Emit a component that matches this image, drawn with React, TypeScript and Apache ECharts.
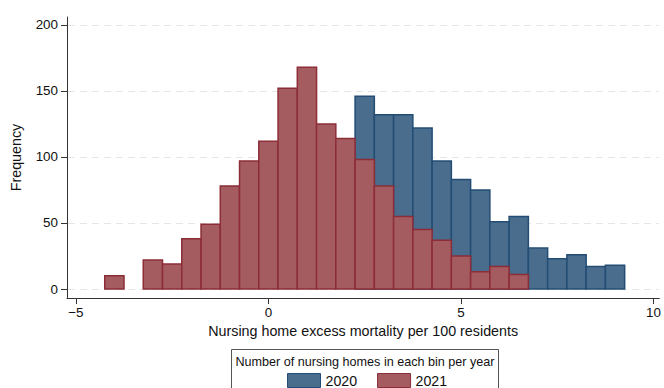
import React, { useEffect, useRef } from "react";
import * as echarts from "echarts";

const binWidth = 0.5;
const centers2020 = [2.5, 3.0, 3.5, 4.0, 4.5, 5.0, 5.5, 6.0, 6.5, 7.0, 7.5, 8.0, 8.5, 9.0];
const values2020 = [146, 132, 132, 122, 97, 83, 75, 51, 55, 31, 23, 26, 17, 18];
const centers2021 = [-4.0, -3.0, -2.5, -2.0, -1.5, -1.0, -0.5, 0, 0.5, 1.0, 1.5, 2.0, 2.5, 3.0, 3.5, 4.0, 4.5, 5.0, 5.5, 6.0, 6.5];
const values2021 = [10, 22, 19, 38, 49, 78, 97, 112, 152, 168, 125, 114, 98, 78, 55, 45, 37, 25, 13, 17, 11];
const xTicks = [-5, 0, 5, 10];
const yTicks = [0, 50, 100, 150, 200];

const BLUE = { fill: "#4a6d8d", stroke: "#234d74" };
const RED = { fill: "#a55c61", stroke: "#8c2d37" };
const FONT = "'Liberation Sans', Arial, Helvetica, sans-serif";

function histSeries(name: string, centers: number[], values: number[], col: { fill: string; stroke: string }, z: number) {
  return {
    name,
    type: "custom",
    z,
    data: centers.map((c, i) => [c, values[i]]),
    encode: { x: 0, y: 1 },
    itemStyle: { color: col.fill, borderColor: col.stroke },
    renderItem: (params: any, api: any) => {
      const c = api.value(0);
      const v = api.value(1);
      const p0 = api.coord([c - binWidth / 2, v]);
      const p1 = api.coord([c + binWidth / 2, 0]);
      return {
        type: "rect",
        shape: { x: p0[0], y: p0[1], width: p1[0] - p0[0], height: p1[1] - p0[1] },
        style: { fill: col.fill, stroke: col.stroke, lineWidth: 1.5 },
      };
    },
  };
}

export default function App() {
  const ref = useRef<HTMLDivElement>(null);
  useEffect(() => {
    if (!ref.current) return;
    const chart = echarts.init(ref.current, null, { renderer: "svg" });
    const minus = (v: number) => String(v).replace("-", "\u2212");
    chart.setOption({
      animation: false,
      backgroundColor: "#ffffff",
      textStyle: { fontFamily: FONT },
      grid: { left: 67, right: 0, top: 17, bottom: 90, containLabel: false },
      xAxis: {
        type: "value",
        min: -5.23,
        max: 10.15,
        name: "Nursing home excess mortality per 100 residents",
        nameLocation: "middle",
        nameGap: 25,
        nameTextStyle: { fontSize: 14.3, color: "#111", fontFamily: FONT },
        axisLine: { show: true, onZero: false, lineStyle: { color: "#333", width: 1 } },
        axisTick: { show: true, customValues: xTicks, length: 6, lineStyle: { color: "#333" } },
        axisLabel: { customValues: xTicks, formatter: minus, fontSize: 13.4, color: "#111", margin: 8, fontFamily: FONT },
        splitLine: { show: false },
      },
      yAxis: {
        type: "value",
        min: -6.8,
        max: 206,
        name: "Frequency",
        nameLocation: "middle",
        nameGap: 44,
        nameRotate: 90,
        nameTextStyle: { fontSize: 14.3, color: "#111", fontFamily: FONT },
        axisLine: { show: true, onZero: false, lineStyle: { color: "#333", width: 1 } },
        axisTick: { show: true, customValues: yTicks, length: 6, lineStyle: { color: "#333" } },
        axisLabel: { customValues: yTicks, fontSize: 13.4, color: "#111", margin: 9, fontFamily: FONT },
        splitLine: { show: false },
      },
      legend: {
        left: 287,
        top: 373,
        padding: 0,
        itemWidth: 33,
        itemHeight: 14,
        itemGap: 20,
        textStyle: { fontSize: 14.2, color: "#111", fontFamily: FONT },
        data: [
          { name: "2020", icon: "rect", itemStyle: { color: BLUE.fill, borderColor: BLUE.stroke, borderWidth: 1 } },
          { name: "2021", icon: "rect", itemStyle: { color: RED.fill, borderColor: RED.stroke, borderWidth: 1 } },
        ],
      },
      graphic: [
        {
          type: "rect",
          shape: { x: 231.5, y: 349.5, width: 267, height: 60 },
          style: { fill: "none", stroke: "#555", lineWidth: 1 },
          silent: true,
        },
        {
          type: "text",
          x: 365,
          y: 362,
          style: {
            text: "Number of nursing homes in each bin per year",
            fontSize: 12.6,
            fontFamily: FONT,
            fill: "#111",
            align: "center",
            verticalAlign: "middle",
          },
          silent: true,
        },
      ],
      series: [
        {
          name: "gridlines",
          type: "custom",
          z: 1,
          silent: true,
          data: yTicks.map((v) => [v]),
          encode: { y: 0 },
          renderItem: (params: any, api: any) => {
            const v = api.value(0);
            const cs = params.coordSys;
            const p = api.coord([cs.x, v]);
            const y = Math.round(api.coord([0, v])[1]) + 0.5;
            return {
              type: "line",
              shape: { x1: cs.x + 1, y1: y, x2: cs.x + cs.width, y2: y },
              style: { stroke: "#e6e6e6", lineWidth: 1, lineDash: [7, 5] },
            };
          },
        },
        histSeries("2020", centers2020, values2020, BLUE, 2),
        histSeries("2021", centers2021, values2021, RED, 3),
      ],
    });
    return () => chart.dispose();
  }, []);
  return <div ref={ref} style={{ position: "absolute", left: 0, top: 0, width: 664, height: 388 }} />;
}
